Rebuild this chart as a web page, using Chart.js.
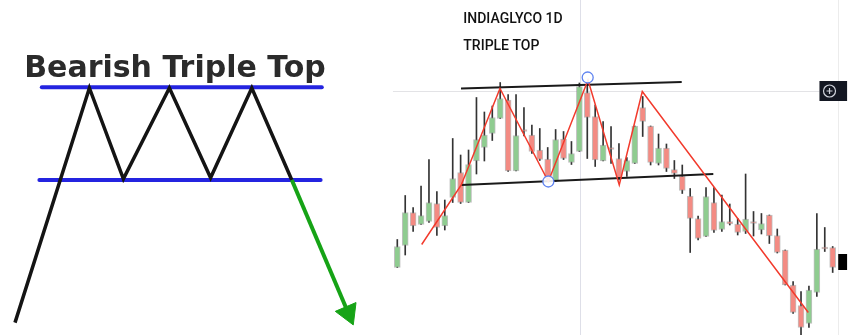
<!DOCTYPE html>
<html><head><meta charset="utf-8">
<script src="https://cdn.jsdelivr.net/npm/chart.js@4.4.1/dist/chart.umd.min.js"></script>
<style>
html,body{margin:0;padding:0;background:#fff;overflow:hidden}
#wrap{position:relative;width:863px;height:335px;background:#fff}
#c1{position:absolute;left:0;top:0;filter:blur(0.6px)}
#c2{position:absolute;left:390px;top:0}
</style></head><body>
<div id="wrap"><canvas id="c1" width="390" height="335"></canvas><canvas id="c2" width="473" height="335"></canvas></div>
<script>
// ---------- Left: schematic "Bearish Triple Top" ----------
const diagramTitle = 'Bearish Triple Top';
const patternT   = [0, 1.86, 2.71, 3.86, 4.89, 5.92, 6.92];
const patternV   = [-2, 100, 60.5, 100, 61, 100, 60];
const resistanceT = [0.67, 7.67];
const resistanceV = [100.3, 100.3];
const necklineT  = [0.61, 7.64];
const necklineV  = [60, 60];
const breakdownT = [6.92, 8.30];
const breakdownV = [60, 3.5];
const arrowTipT  = [8.33];
const arrowTipV  = [2.2];

// ---------- Right: INDIAGLYCO 1D candles ----------
const chartTitle = 'INDIAGLYCO 1D';
const chartSubtitle = 'TRIPLE TOP';
const opens  = [1065,1109,1175,1151,1157,1193,1148,1205,1255,1195,1278,1305,1333,1363,1400,1258,1340,1330,1300,1282,1238,1322,1275,1297,1415,1367,1278,1305,1283,1257,1273,1385,1348,1273,1304,1261,1248,1208,1163,1127,1195,1141,1157,1152,1137,1155,1140,1170,1129,1100,1030,989,953,1015,1105,1105];
const highs  = [1121,1209,1185,1228,1281,1217,1200,1323,1290,1300,1405,1376,1388,1435,1411,1411,1385,1350,1343,1305,1341,1337,1317,1434,1433,1390,1357,1347,1313,1285,1348,1407,1348,1332,1312,1279,1270,1223,1168,1225,1225,1210,1192,1163,1252,1177,1173,1170,1142,1100,1037,1017,1028,1173,1145,1107];
const lows   = [1065,1090,1137,1151,1155,1129,1140,1195,1193,1195,1252,1278,1319,1363,1257,1258,1328,1293,1279,1240,1237,1281,1271,1297,1283,1267,1278,1273,1240,1247,1273,1327,1270,1270,1257,1243,1213,1095,1120,1127,1135,1137,1150,1130,1133,1128,1132,1113,1094,1030,973,930,945,1007,1097,1055];
const closes = [1107,1175,1148,1169,1195,1145,1169,1243,1195,1271,1321,1330,1365,1403,1258,1329,1337,1297,1281,1243,1321,1283,1293,1427,1365,1280,1310,1301,1243,1279,1348,1357,1275,1304,1263,1253,1219,1163,1123,1207,1139,1157,1152,1135,1162,1153,1153,1128,1095,1030,975,945,1020,1102,1102,1065];
const candleIdx = opens.map((_, i) => i);

const zigzagX = [3.08, 8.08, 12.97, 19.08, 24.09, 28.04, 30.95, 51.92];
const zigzagY = [1111, 1230, 1423, 1237, 1440, 1230, 1417, 975];
const upperLineX = [8.05, 35.93];
const upperLineY = [1423, 1436];
const lowerLineX = [8.08, 39.92];
const lowerLineY = [1230, 1252];
const markerX = [19.08, 24.05];
const markerY = [1237, 1445];
const crossX = 23.08, crossY = 1418;

const GREEN = '#8fcc90', RED = '#f38b83';

// ----- left chart -----
const xy = (xs, ys) => xs.map((x, i) => ({x, y: ys[i]}));
const leftText = {
  id: 'leftText',
  afterDatasetsDraw(chart) {
    const {ctx, scales} = chart;
    ctx.save();
    ctx.font = 'bold 30px "DejaVu Sans"';
    ctx.fillStyle = '#2b2b2b';
    ctx.textAlign = 'center';
    ctx.textBaseline = 'alphabetic';
    ctx.fillText(diagramTitle, scales.x.getPixelForValue(4.0), scales.y.getPixelForValue(104.6));
    ctx.restore();
  }
};
new Chart(document.getElementById('c1'), {
  type: 'scatter',
  data: { datasets: [
    { data: xy(arrowTipT, arrowTipV), pointStyle: 'triangle', pointRadius: 13, pointRotation: 157,
      pointBackgroundColor: '#16a316', pointBorderColor: '#16a316', pointBorderWidth: 1, showLine: false, order: 0 },
    { data: xy(breakdownT, breakdownV), showLine: true, borderColor: '#16a316', borderWidth: 4, pointRadius: 0, order: 1 },
    { data: xy(patternT, patternV), showLine: true, borderColor: '#141414', borderWidth: 3.5, pointRadius: 0, order: 2 },
    { data: xy(resistanceT, resistanceV), showLine: true, borderColor: '#2424e0', borderWidth: 4, borderCapStyle: 'round', pointRadius: 0, order: 3 },
    { data: xy(necklineT, necklineV), showLine: true, borderColor: '#2424e0', borderWidth: 4, borderCapStyle: 'round', pointRadius: 0, order: 4 }
  ]},
  options: {
    responsive: false, animation: false, devicePixelRatio: 1,
    layout: { padding: 0, autoPadding: false },
    plugins: { legend: { display: false }, tooltip: { enabled: false } },
    scales: {
      x: { type: 'linear', min: -0.375, max: 9.375, display: false },
      y: { type: 'linear', min: -7.39, max: 138.26, display: false }
    }
  },
  plugins: [leftText]
});

// ----- right chart -----
const rightDeco = {
  id: 'rightDeco',
  beforeDatasetsDraw(chart) {
    const {ctx, scales: {x, y}, height} = chart;
    ctx.save();
    ctx.lineWidth = 1;
    ctx.strokeStyle = '#dedfe8';
    const cx = Math.round(x.getPixelForValue(crossX)) + 0.5;
    ctx.beginPath(); ctx.moveTo(cx, 0); ctx.lineTo(cx, height); ctx.stroke();
    const cy = Math.round(y.getPixelForValue(crossY)) + 0.5;
    ctx.strokeStyle = '#e3e3e6';
    ctx.beginPath(); ctx.moveTo(x.getPixelForValue(-0.55), cy); ctx.lineTo(x.getPixelForValue(53.33), cy); ctx.stroke();
    const bx = Math.round(x.getPixelForValue(55.72)) + 0.5;
    ctx.strokeStyle = '#ececec';
    ctx.beginPath(); ctx.moveTo(bx, 0); ctx.lineTo(bx, height); ctx.stroke();
    ctx.restore();
  },
  afterDatasetsDraw(chart) {
    const {ctx, scales: {x, y}} = chart;
    ctx.save();
    ctx.fillStyle = '#111111';
    ctx.font = '500 14px Roboto';
    ctx.textAlign = 'left';
    ctx.textBaseline = 'alphabetic';
    ctx.fillText(chartTitle, x.getPixelForValue(8.34), y.getPixelForValue(1554));
    ctx.fillText(chartSubtitle, x.getPixelForValue(8.34), y.getPixelForValue(1500));
    // plus button
    const l = x.getPixelForValue(53.33), r = x.getPixelForValue(56.82);
    const t = y.getPixelForValue(1438), b = y.getPixelForValue(1398);
    ctx.fillStyle = '#131722';
    ctx.fillRect(l, t, r - l, b - t);
    const ix = x.getPixelForValue(54.6), iy = y.getPixelForValue(crossY);
    ctx.strokeStyle = '#d1d4dc'; ctx.lineWidth = 1.2;
    ctx.beginPath(); ctx.arc(ix, iy, 6, 0, Math.PI * 2); ctx.stroke();
    ctx.beginPath(); ctx.moveTo(ix - 3, iy); ctx.lineTo(ix + 3, iy); ctx.moveTo(ix, iy - 3); ctx.lineTo(ix, iy + 3); ctx.stroke();
    // price label stub
    const pl = x.getPixelForValue(55.7), pr = x.getPixelForValue(56.82);
    const pt = y.getPixelForValue(1092), pb = y.getPixelForValue(1060);
    ctx.fillStyle = '#000';
    ctx.fillRect(pl, pt, pr - pl, pb - pt);
    ctx.restore();
  }
};

new Chart(document.getElementById('c2'), {
  type: 'bar',
  data: { datasets: [
    { type: 'scatter', data: xy(markerX, markerY), showLine: false, pointRadius: 5.5,
      pointBackgroundColor: 'rgba(255,255,255,0.9)', pointBorderColor: '#5f83f0', pointBorderWidth: 1.3, order: 0 },
    { type: 'line', data: xy(zigzagX, zigzagY), borderColor: '#f23a2c', borderWidth: 1.5, pointRadius: 0, tension: 0, order: 1 },
    { type: 'line', data: xy(upperLineX, upperLineY), borderColor: '#1a1a1a', borderWidth: 2, pointRadius: 0, order: 2 },
    { type: 'line', data: xy(lowerLineX, lowerLineY), borderColor: '#1a1a1a', borderWidth: 2, pointRadius: 0, order: 2 },
    { type: 'bar', data: candleIdx.map(i => ({x: i, y: [opens[i], closes[i]]})),
      backgroundColor: candleIdx.map(i => closes[i] >= opens[i] ? GREEN : RED),
      borderColor: 'rgba(140,140,140,0.55)', borderWidth: 1, borderSkipped: false,
      barThickness: 6, minBarLength: 2, grouped: false, order: 3 },
    { type: 'bar', data: candleIdx.map(i => ({x: i, y: [lows[i], highs[i]]})),
      backgroundColor: '#333333', barThickness: 1, grouped: false, order: 4 }
  ]},
  options: {
    responsive: false, animation: false, devicePixelRatio: 1,
    layout: { padding: 0, autoPadding: false },
    plugins: { legend: { display: false }, tooltip: { enabled: false } },
    scales: {
      x: { type: 'linear', min: -0.922, max: 58.83, offset: false, display: false },
      y: { type: 'linear', min: 930, max: 1600, display: false }
    }
  },
  plugins: [rightDeco]
});
</script>
</body></html>
